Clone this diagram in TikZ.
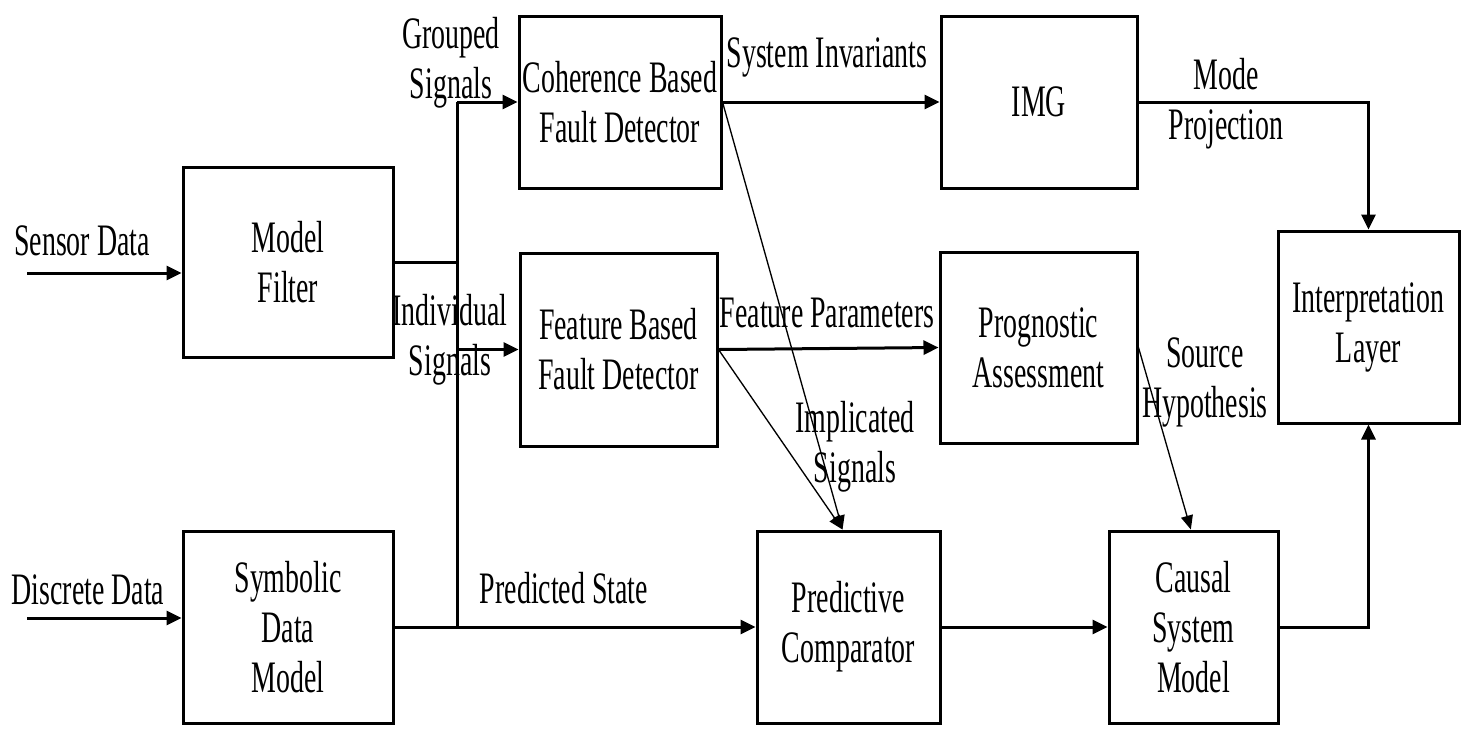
\documentclass[tikz,border=0pt]{standalone}
\usepackage{fontspec}
\setmainfont{Liberation Serif}[FakeStretch=0.62]
\usepackage{tikz}
\usetikzlibrary{arrows.meta}

\tikzset{
  box/.style={draw, line width=2.25pt, align=center, inner sep=0pt, font=\fontsize{33.75pt}{37.5pt}\selectfont},
  lbl/.style={anchor=base, align=center, inner sep=0pt, font=\fontsize{33.75pt}{37.5pt}\selectfont},
  wire/.style={line width=2.25pt},
  arr/.style={line width=2.25pt, -{Triangle[length=11.25pt, width=10.5pt]}},
  thinarr/.style={line width=1pt, -{Triangle[length=10.5pt, width=9pt]}}
}

\begin{document}
\begin{tikzpicture}[x=0.75pt,y=0.75pt,yscale=-1,xscale=1]

\useasboundingbox (0,0) rectangle (1467,733);

\node[box, minimum width=157.5pt, minimum height=142.5pt] (mf) at (288,262) {Model\\Filter};

\node[box, minimum width=157.5pt, minimum height=144pt] (sdm) at (288,627) {Symbolic\\Data\\Model};

\node[box, minimum width=151.5pt, minimum height=129pt] (cbfd) at (620,102) {Coherence Based\\Fault Detector};

\node[box, minimum width=147.75pt, minimum height=144.75pt] (fbfd) at (618.5,349.5) {Feature Based\\Fault Detector};

\node[box, minimum width=147pt, minimum height=129pt] (img) at (1039,102) {IMG};

\node[box, minimum width=147.75pt, minimum height=143.25pt] (pa) at (1038.5,347.5) {Prognostic\\Assessment};

\node[box, minimum width=137.25pt, minimum height=144pt] (pc) at (848.5,627) {Predictive\\Comparator};

\node[box, minimum width=126.75pt, minimum height=144pt] (csm) at (1193.5,627) {Causal\\System\\Model};

\node[box, minimum width=135.75pt, minimum height=144pt] (il) at (1368.5,327) {Interpretation\\Layer};

% inputs
\coordinate (sensor) at (27,273);
\coordinate (discrete) at (27,618);
\draw[arr] (sensor) -- (sensor -| mf.west);
\draw[arr] (discrete) -- (discrete -| sdm.west);

% signal bus
\coordinate (bustop) at (457,102);
\coordinate (busbot) at (457,627);
\draw[wire] (mf.east) -- (mf.east -| bustop);
\draw[wire] (bustop) -- (busbot);
\draw[arr] (bustop) -- (cbfd.west);
\draw[arr] (bustop |- fbfd.west) -- (fbfd.west);
\draw[arr] (sdm.east) -- (pc.west);

\draw[arr] (cbfd.east) -- (img.west);
\draw[arr] (fbfd.east) -- (pa.west);
\draw[arr] (pc.east) -- (csm.west);
\draw[arr] (img.east) -| (il.north);
\draw[arr] (csm.east) -| (il.south);

\draw[thinarr] (cbfd.east) -- ([xshift=-4.5pt]pc.north);
\draw[thinarr] (fbfd.east) -- ([xshift=-4.5pt]pc.north);
\draw[thinarr] (pa.east) -- ([xshift=-2pt]csm.north);

% labels (base = last line)
\node[lbl] (sensorlbl) at (82,255) {Sensor Data};
\node[lbl] (discretelbl) at (88,604) {Discrete Data};
\node[lbl] (grouped) at (451,98) {Grouped\\Signals};
\node[lbl] (individual) at (450,375) {Individual\\Signals};
\node[lbl] (invariants) at (827,67) {System Invariants};
\node[lbl] (projection) at (1226,139) {Mode\\Projection};
\node[lbl] (parameters) at (827,327) {Feature Parameters};
\node[lbl] (implicated) at (855,482) {Implicated\\Signals};
\node[lbl] (predicted) at (564,603) {Predicted State};
\node[lbl] (hypothesis) at (1205,417) {Source\\Hypothesis};

\end{tikzpicture}
\end{document}
